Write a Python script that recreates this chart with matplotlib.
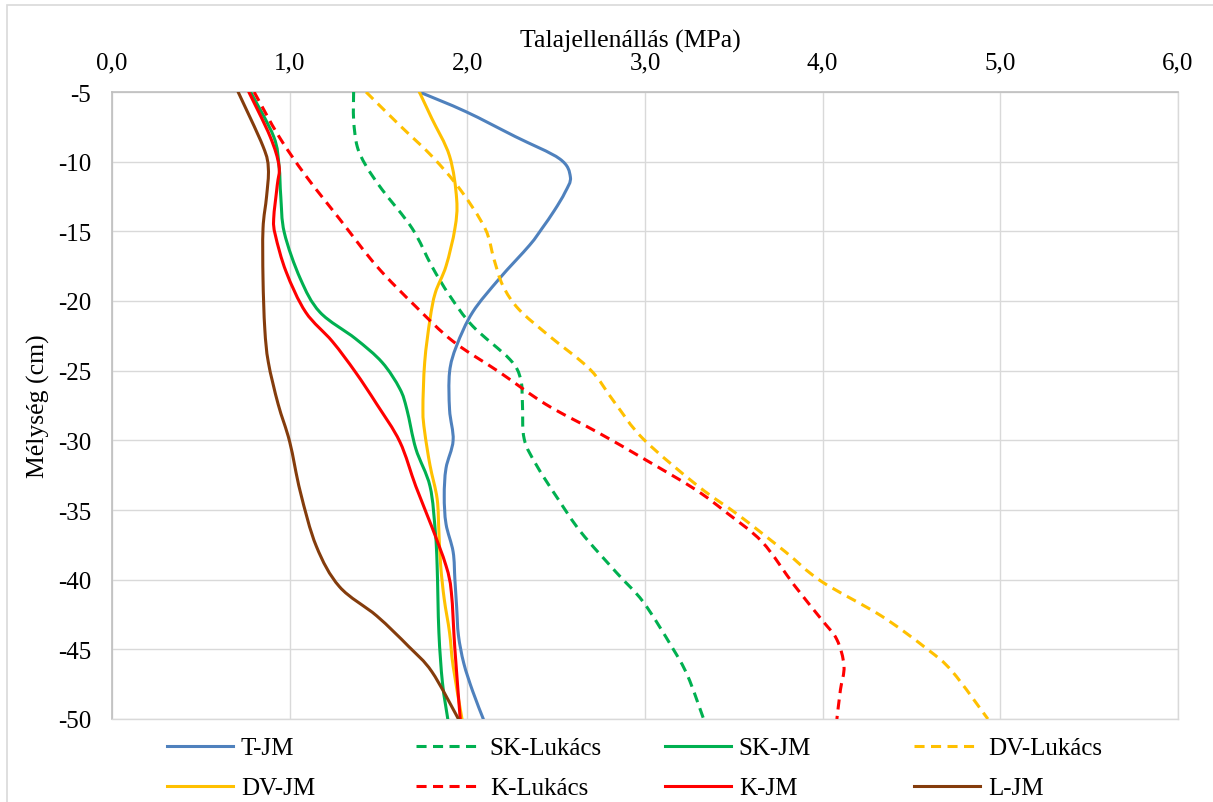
import matplotlib
matplotlib.use("Agg")
import matplotlib.pyplot as plt
from matplotlib.ticker import FuncFormatter
from matplotlib.lines import Line2D
from matplotlib.path import Path
from matplotlib.patches import PathPatch, Rectangle

plt.rcParams['font.family'] = ['Liberation Serif', 'DejaVu Serif']

# ---- data (depth in cm, penetration resistance in MPa) ----
t_jm_d = [-5, -6.4, -8.2, -9.8, -11.1, -12.2, -13.5, -14.8, -16.0, -18.4, -20.8, -23.2, -25.1, -27.8, -30.0, -32.0, -34.0, -36.0, -38.0, -40.0, -42.0, -44.0, -46.0, -48.0, -50]
t_jm_v = [1.73, 1.99, 2.27, 2.52, 2.58, 2.55, 2.49, 2.42, 2.35, 2.18, 2.03, 1.94, 1.90, 1.90, 1.92, 1.88, 1.87, 1.88, 1.92, 1.93, 1.94, 1.95, 1.98, 2.03, 2.09]

sk_luk_d = [-5, -7.0, -8.9, -10.3, -12.0, -14.8, -17.5, -19.6, -21.8, -24.2, -25.6, -27.3, -29.9, -31.8, -34.2, -36.6, -39.5, -41.6, -44.8, -46.9, -50]
sk_luk_v = [1.36, 1.36, 1.38, 1.43, 1.52, 1.69, 1.80, 1.90, 2.03, 2.24, 2.30, 2.31, 2.32, 2.39, 2.51, 2.64, 2.84, 2.99, 3.15, 3.24, 3.33]

sk_jm_d = [-5, -8.2, -10.3, -12.5, -15.1, -18.4, -20.8, -22.7, -24.4, -26.3, -27.8, -30.6, -33.3, -36.6, -39.0, -43.8, -47.4, -50]
sk_jm_v = [0.78, 0.91, 0.94, 0.95, 0.97, 1.06, 1.17, 1.37, 1.52, 1.62, 1.66, 1.71, 1.79, 1.82, 1.83, 1.84, 1.86, 1.89]

dv_luk_d = [-5, -7.4, -9.6, -12.0, -14.8, -17.0, -18.9, -20.6, -22.5, -24.9, -27.3, -29.9, -33.3, -35.4, -38.0, -40.1, -42.6, -45.0, -46.6, -50]
dv_luk_v = [1.43, 1.62, 1.80, 1.96, 2.10, 2.15, 2.20, 2.29, 2.46, 2.69, 2.83, 2.99, 3.30, 3.53, 3.79, 3.99, 4.33, 4.59, 4.73, 4.93]

dv_jm_d = [-5, -6.9, -9.6, -12.7, -14.8, -17.5, -19.4, -21.3, -24.4, -27.8, -29.4, -31.8, -34.2, -36.6, -39.0, -41.4, -43.8, -46.2, -50]
dv_jm_v = [1.73, 1.80, 1.90, 1.94, 1.93, 1.88, 1.82, 1.79, 1.76, 1.75, 1.76, 1.79, 1.83, 1.84, 1.85, 1.87, 1.90, 1.92, 1.97]

k_luk_d = [-5, -8.2, -11.0, -14.1, -17.5, -20.4, -22.9, -25.1, -27.4, -29.4, -31.3, -33.5, -35.2, -37.3, -40.4, -42.8, -44.3, -46.2, -47.9, -50]
k_luk_v = [0.80, 0.94, 1.09, 1.28, 1.49, 1.71, 1.92, 2.18, 2.44, 2.73, 2.99, 3.28, 3.46, 3.66, 3.84, 3.99, 4.08, 4.12, 4.10, 4.08]

k_jm_d = [-5, -8.2, -10.3, -11.7, -14.1, -15.3, -17.9, -20.8, -22.9, -25.1, -27.4, -30.1, -33.3, -36.2, -39.0, -40.9, -45.0, -50]
k_jm_v = [0.77, 0.89, 0.94, 0.93, 0.91, 0.92, 0.98, 1.09, 1.24, 1.37, 1.49, 1.62, 1.71, 1.80, 1.88, 1.91, 1.93, 1.96]

l_jm_d = [-5, -8.9, -10.5, -12.5, -14.8, -18.4, -22.0, -24.4, -27.4, -30.1, -33.7, -37.6, -40.5, -42.6, -44.8, -46.6, -50]
l_jm_v = [0.71, 0.85, 0.88, 0.87, 0.85, 0.85, 0.86, 0.88, 0.935, 1.00, 1.06, 1.15, 1.28, 1.49, 1.67, 1.80, 1.95]

x_ticks = [0, 1, 2, 3, 4, 5, 6]
y_ticks = [-5, -10, -15, -20, -25, -30, -35, -40, -45, -50]


def smooth_path(xs, ys):
    """Excel-style smoothed line: cubic Bezier segments through the points."""
    pts = list(zip(xs, ys))
    n = len(pts)
    verts = [pts[0]]
    codes = [Path.MOVETO]
    for i in range(n - 1):
        p0 = pts[i - 1] if i > 0 else pts[i]
        p1 = pts[i]
        p2 = pts[i + 1]
        p3 = pts[i + 2] if i + 2 < n else pts[i + 1]
        c1 = (p1[0] + (p2[0] - p0[0]) / 6.0, p1[1] + (p2[1] - p0[1]) / 6.0)
        c2 = (p2[0] - (p3[0] - p1[0]) / 6.0, p2[1] - (p3[1] - p1[1]) / 6.0)
        verts += [c1, c2, p2]
        codes += [Path.CURVE4, Path.CURVE4, Path.CURVE4]
    return Path(verts, codes)


# ---- figure ----
W, H = 1213, 803
fig = plt.figure(figsize=(W / 100, H / 100), dpi=100)
fig.patches.append(Rectangle((7 / W, -0.1), 1.2, 1.1 - 6 / H, transform=fig.transFigure,
                             fill=False, edgecolor='#d9d9d9', linewidth=1.2))
ax = fig.add_axes([112 / W, 1 - 720 / H, (1178 - 112) / W, (720 - 93) / H])

dash = (0, (3.3, 2.1))
lw = 2.2
series = [
    ('T-JM', t_jm_v, t_jm_d, '#4F81BD', '-'),
    ('SK-Lukács', sk_luk_v, sk_luk_d, '#00B050', dash),
    ('SK-JM', sk_jm_v, sk_jm_d, '#00B050', '-'),
    ('DV-Lukács', dv_luk_v, dv_luk_d, '#FFC000', dash),
    ('DV-JM', dv_jm_v, dv_jm_d, '#FFC000', '-'),
    ('K-Lukács', k_luk_v, k_luk_d, '#FF0000', dash),
    ('K-JM', k_jm_v, k_jm_d, '#FF0000', '-'),
    ('L-JM', l_jm_v, l_jm_d, '#843C0C', '-'),
]
handles = {}
for name, xv, yv, col, ls in series:
    patch = PathPatch(smooth_path(xv, yv), fill=False, edgecolor=col, linestyle=ls,
                      linewidth=lw, joinstyle='round',
                      capstyle='butt' if ls != '-' else 'round', zorder=3)
    ax.add_patch(patch)
    handles[name] = Line2D([], [], color=col, linestyle=ls, linewidth=lw)

ax.set_xlim(0, 6)
ax.set_ylim(-50, -5)
ax.set_xticks(x_ticks)
ax.set_yticks(y_ticks)
ax.xaxis.tick_top()
ax.xaxis.set_label_position('top')
ax.xaxis.set_major_formatter(FuncFormatter(lambda v, p: f"{v:.1f}".replace('.', ',')))
ax.yaxis.set_major_formatter(FuncFormatter(lambda v, p: f"{int(round(v))}"))
ax.tick_params(axis='x', length=0, labelsize=18, pad=13)
ax.tick_params(axis='y', length=0, labelsize=18, pad=15)
ax.grid(True, color='#d9d9d9', linewidth=1.0)
ax.set_axisbelow(True)
for s in ['left', 'top']:
    ax.spines[s].set_color('#bfbfbf')
    ax.spines[s].set_linewidth(1.2)
for s in ['right', 'bottom']:
    ax.spines[s].set_color('#d9d9d9')
    ax.spines[s].set_linewidth(1.0)

ax.set_xlabel('Talajellenállás (MPa)', fontsize=18.5, labelpad=4)
ax.xaxis.label.set_x((630 - 112) / (1178 - 112))
ax.set_ylabel('Mélység (cm)', fontsize=18.5, labelpad=6)

# legend: 4 equally spaced columns, 2 rows
columns = [['T-JM', 'DV-JM'], ['SK-Lukács', 'K-Lukács'], ['SK-JM', 'K-JM'], ['DV-Lukács', 'L-JM']]
col_x = [167, 416, 665, 914]
for names, x0 in zip(columns, col_x):
    fig.legend([handles[n] for n in names], names, loc='upper left',
               bbox_to_anchor=(x0 / W, 1 - 738 / H), frameon=False, fontsize=18,
               handlelength=2.65, handletextpad=0.3, labelspacing=0.7,
               borderpad=0, borderaxespad=0)

fig.savefig('out.png', dpi=100)
